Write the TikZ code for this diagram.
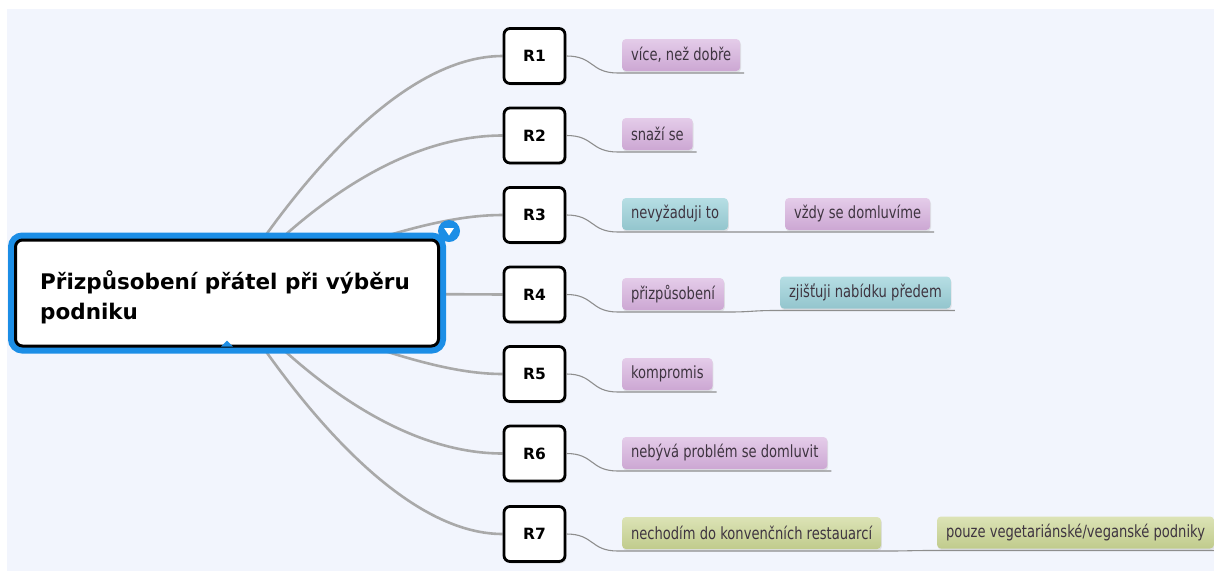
\documentclass[tikz,border=0pt]{standalone}
\usepackage{fontspec}
\usetikzlibrary{calc}
\newfontfamily\titlefont{DejaVu Sans}
\newfontfamily\leaffont[FakeStretch=0.78]{DejaVu Sans}

\definecolor{canvas}{HTML}{F2F5FD}
\definecolor{branch}{HTML}{A9A9A9}
\definecolor{twig}{HTML}{8E8E8E}
\definecolor{selblue}{HTML}{1C8EE6}
\definecolor{lilacTop}{HTML}{E4CCE9}
\definecolor{lilacBot}{HTML}{CCA7D3}
\definecolor{tealTop}{HTML}{B6DEE4}
\definecolor{tealBot}{HTML}{93C5CD}
\definecolor{oliveTop}{HTML}{DCE3B6}
\definecolor{oliveBot}{HTML}{C0CB8C}
\definecolor{leaftext}{HTML}{3E3440}

\pgfdeclarelayer{branches}
\pgfsetlayers{branches,main}

\tikzset{
  mainbranch/.style={draw=branch, line width=2.6pt},
  twigline/.style={draw=twig, line width=1.1pt},
  rbox/.style={draw=black, line width=2.8pt, fill=white, rounded corners=6pt,
    minimum width=61pt, minimum height=55pt, inner sep=0pt,
    font=\titlefont\bfseries\fontsize{15.5}{16}\selectfont,
    preaction={fill=black!25, opacity=0.5, transform canvas={xshift=1.5pt,yshift=-2pt}}},
  leaf/.style={rounded corners=4pt, minimum height=32pt, inner xsep=9pt, inner ysep=0pt,
    outer xsep=4pt, outer ysep=2pt, anchor=west, text=leaftext,
    font=\leaffont\fontsize{16.8}{18}\selectfont,
    preaction={fill=black!22, opacity=0.45, transform canvas={xshift=0.8pt,yshift=-1.6pt}}},
  lilac/.style={leaf, top color=lilacTop, bottom color=lilacBot},
  teal/.style={leaf, top color=tealTop, bottom color=tealBot},
  olive/.style={leaf, top color=oliveTop, bottom color=oliveBot},
  topic/.style={draw=black, line width=3pt, fill=white, rounded corners=7pt,
    minimum width=423pt, minimum height=106pt, inner sep=0pt,
    preaction={draw=selblue, line width=15pt, rounded corners=9pt}},
}

\begin{document}
\begin{tikzpicture}[x=1pt, y=-1pt]
  % page and canvas
  \useasboundingbox (0,0) rectangle (1214,571);
  \begin{pgfonlayer}{branches}
    \fill[white] (0,0) rectangle (1214,571);
    \fill[canvas] (7,9) rectangle (1214,571);
  \end{pgfonlayer}

  % central topic
  \node[topic] (c) at (227,293) {};
  \node[anchor=north west, align=left, inner sep=0pt,
        font=\titlefont\bfseries\fontsize{21.5}{30}\selectfont]
        (ctext) at (40,270) {Přizpůsobení přátel při výběru\\podniku};
  % collapse button and bottom notch
  \node[circle, fill=selblue, minimum size=22pt, inner sep=0pt] (btn) at (449,231) {};
  \fill[white] ($(btn.center)+(-5,-3)$) -- ($(btn.center)+(5,-3)$) -- ($(btn.center)+(0,4.5)$) -- cycle;
  \fill[selblue] ($(c.south)+(-6,-1)$) -- ($(c.south)+(6,-1)$) -- ($(c.south)+(0,-7)$) -- cycle;

  % respondent boxes
  \node[rbox] (R1) at (534.5,56) {R1};
  \node[rbox] (R2) at (534.5,135.5) {R2};
  \node[rbox] (R3) at (534.5,215) {R3};
  \node[rbox] (R4) at (534.5,294.5) {R4};
  \node[rbox] (R5) at (534.5,374) {R5};
  \node[rbox] (R6) at (534.5,453.5) {R6};
  \node[rbox] (R7) at (534.5,534) {R7};

  % main branches, drawn beneath the boxes
  \begin{pgfonlayer}{branches}
    \path[mainbranch] (c.center) .. controls +(70,-112) and +(-100,0) .. (R1.west);
    \path[mainbranch] (c.center) .. controls +(90,-100) and +(-90,0) .. (R2.west);
    \path[mainbranch] (c.center) .. controls +(140,-55) and +(-60,0) .. (R3.west);
    \path[mainbranch] (c.center) -- (R4.west);
    \path[mainbranch] (c.center) .. controls +(140,55) and +(-60,0) .. (R5.west);
    \path[mainbranch] (c.center) .. controls +(90,100) and +(-90,0) .. (R6.west);
    \path[mainbranch] (c.center) .. controls +(70,112) and +(-100,0) .. (R7.west);
  \end{pgfonlayer}

  % leaves
  \node[lilac] (s1) at (618,55) {více, než dobře};
  \node[lilac] (s2) at (618,134) {snaží se};
  \node[teal]  (s3a) at (618,214) {nevyžaduji to};
  \node[lilac] (s3b) at (781,214) {vždy se domluvíme};
  \node[lilac] (s4a) at (618,294) {přizpůsobení};
  \node[teal]  (s4b) at (776,292.5) {zjišťuji nabídku předem};
  \node[lilac] (s5) at (618,374) {kompromis};
  \node[lilac] (s6) at (618,453) {nebývá problém se domluvit};
  \node[olive] (s7a) at (618,533) {nechodím do konvenčních restauarcí};
  \node[olive] (s7b) at (933,532.5) {pouze vegetariánské/veganské podniky};

  % twigs: R box -> underline of its leaves
  \path[twigline] (R1.east) .. controls +(28,0) and +(-28,0) .. (s1.south west) -- (s1.south east);
  \path[twigline] (R2.east) .. controls +(28,0) and +(-28,0) .. (s2.south west) -- (s2.south east);
  \path[twigline] (R3.east) .. controls +(28,0) and +(-28,0) .. (s3a.south west) -- (s3a.south east)
    -- (s3b.south west) -- (s3b.south east);
  \path[twigline] (R4.east) .. controls +(28,0) and +(-28,0) .. (s4a.south west) -- (s4a.south east)
    .. controls +(25,0) and +(-25,0) .. (s4b.south west) -- (s4b.south east);
  \path[twigline] (R5.east) .. controls +(28,0) and +(-28,0) .. (s5.south west) -- (s5.south east);
  \path[twigline] (R6.east) .. controls +(28,0) and +(-28,0) .. (s6.south west) -- (s6.south east);
  \path[twigline] (R7.east) .. controls +(28,0) and +(-28,0) .. (s7a.south west) -- (s7a.south east)
    .. controls +(25,0) and +(-25,0) .. (s7b.south west) -- (s7b.south east);
\end{tikzpicture}
\end{document}
